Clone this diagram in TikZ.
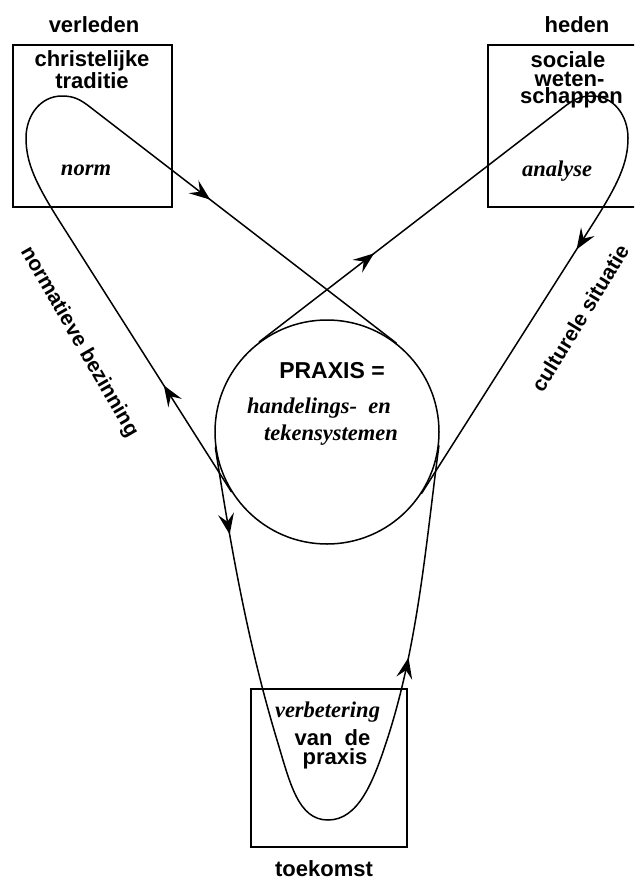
\documentclass[tikz,border=0pt]{standalone}
\usepackage{fontspec}
\setmainfont{Liberation Serif}
\setsansfont{Liberation Sans}
\usetikzlibrary{arrows.meta,decorations.markings}

\tikzset{
  flowtip/.tip={Stealth[length=21pt,width=16pt,inset=8pt]},
  lbl/.style={font=\sffamily\bfseries\fontsize{22}{24}\selectfont, inner sep=0pt, anchor=base},
  slanted/.style={font=\sffamily\bfseries\fontsize{21}{24}\selectfont, inner sep=0pt, anchor=center},
  ital/.style={font=\rmfamily\bfseries\itshape\fontsize{22.5}{24}\selectfont, inner sep=0pt, anchor=base},
  frame/.style={draw, rectangle, line width=1.7pt, inner sep=0pt},
  hub/.style={draw, circle, line width=1.5pt, inner sep=0pt, minimum size=224pt},
  loopline/.style={line width=1.5pt, line join=round, line cap=round},
  arrowsat/.style 2 args={postaction={decorate}, decoration={markings,
      mark=at position #1 with {\arrow{flowtip}},
      mark=at position #2 with {\arrow{flowtip}}}},
}

\begin{document}
\begin{tikzpicture}[x=1pt,y=-1pt]
  \useasboundingbox (0,0) rectangle (634,880);
  \fill[white] (0,0) rectangle (634,880);
  \clip (0,0) rectangle (634,880);

  % the three fields and the central practice
  \node[frame, minimum width=159pt, minimum height=162pt] (past)   at (92.5,126) {};
  \node[frame, minimum width=159pt, minimum height=162pt] (now)    at (567.5,126) {};
  \node[frame, minimum width=156pt, minimum height=158pt] (future) at (329,768) {};
  \node[hub] (praxis) at (327,432) {};

  % loop through the tradition (up the left leg, down the right leg)
  \draw[loopline, arrowsat={126pt}{-235pt}]
    (praxis.212.3) -- (60,222)
    .. controls (36,184) and (26,163) .. (26,138)
    .. controls (26,116) and (40,96) .. (62,96)
    .. controls (74,96) and (80.5,99.6) .. (90,107)
    -- (praxis.52.1);

  % loop through the social sciences
  \draw[loopline, arrowsat={145pt}{-289pt}]
    (praxis.127.9) -- (564,107)
    .. controls (573.5,99.6) and (580,96) .. (592,96)
    .. controls (614,96) and (628,116) .. (628,138)
    .. controls (628,163) and (618,184) .. (594,222)
    -- (praxis.327.7);

  % loop through the improved practice
  \draw[loopline, arrowsat={88pt}{-214pt}]
    (praxis.188.8)
    .. controls (231,548) and (248,644) .. (277,740)
    .. controls (290,783) and (298,820) .. (328,820)
    .. controls (358,820) and (373,783) .. (387,740)
    .. controls (418,645) and (426,543) .. (praxis.353.8);

  % labels of the past
  \node[lbl] (verleden) at (94,33)  {verleden};
  \node[lbl] (trad1)    at (92,67)  {christelijke};
  \node[lbl] (trad2)    at (92,89)  {traditie};
  \node[ital] (norm)    at (86,175) {norm};

  % labels of the present
  \node[lbl] (heden)  at (577,33)  {heden};
  \node[lbl] (soc1)   at (568,68)  {sociale};
  \node[lbl] (soc2)   at (569.5,87) {weten-};
  \node[lbl] (soc3)   at (571.5,104) {schappen};
  \node[ital] (analyse) at (557,176) {analyse};

  % labels of the future
  \node[ital] (verb)   at (327.5,717) {verbetering};
  \node[lbl] (vande)   at (332.5,745) {van\hspace{0.55em}de};
  \node[lbl] (praxis2) at (335,764) {praxis};
  \node[lbl] (toekomst) at (324,876) {toekomst};

  % text of the centre
  \node[lbl, font=\sffamily\bfseries\fontsize{23}{24}\selectfont] (praxis1) at (332,378) {PRAXIS =};
  \node[ital] (hand) at (319,413) {handelings-\hspace{0.5em}en};
  \node[ital] (teken) at (331,440) {tekensystemen};

  % labels along the legs
  \node[slanted, rotate=-60] (normatief) at (79,342) {normatieve bezinning};
  \node[slanted, rotate=58.5] (cultuur) at (580,318) {culturele situatie};
\end{tikzpicture}
\end{document}
